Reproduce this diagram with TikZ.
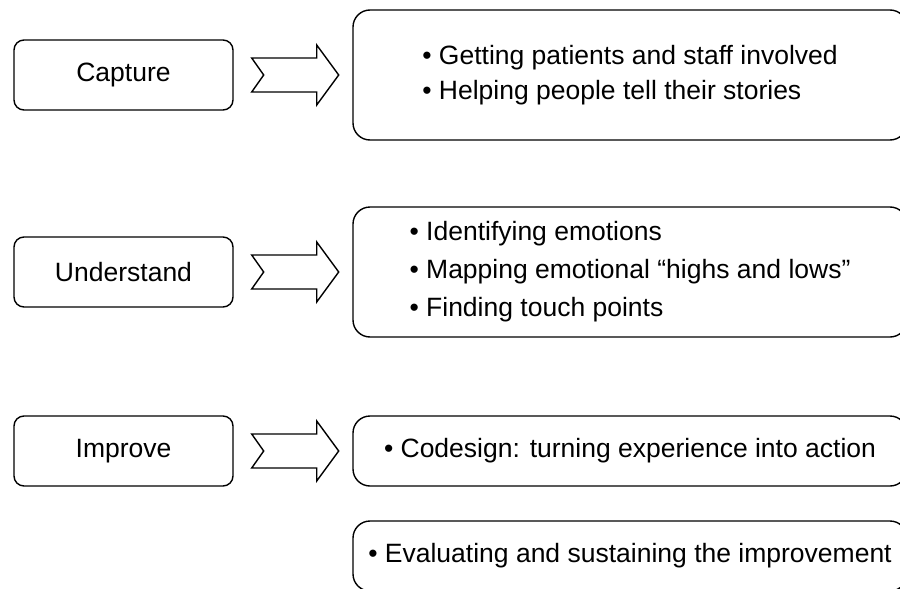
\documentclass[tikz,border=0pt]{standalone}
\usepackage{fontspec}
\setmainfont{Liberation Sans}
\usetikzlibrary{calc}
\begin{document}
\begin{tikzpicture}[x=1pt,y=-1pt,
  stage/.style={draw, line width=1.4pt, rounded corners=10pt, minimum width=219pt, minimum height=70pt, inner sep=0pt, font=\fontsize{26.5}{32}\selectfont},
  detail/.style={draw, line width=1.4pt, rounded corners=17pt, minimum width=554pt, inner sep=0pt, align=left, font=\fontsize{26.5}{36}\selectfont},
  blockarrow/.style={draw, line width=1.4pt, fill=white, line join=miter},
  notcharrow/.pic={\draw[blockarrow] (0,-17) -- (65,-17) -- (65,-30) -- (87,0) -- (65,30) -- (65,17) -- (0,17) -- (12,0) -- cycle;}]
\useasboundingbox (0,0) rectangle (900,589);
\clip (0,0) rectangle (900,589);
\node[stage] (capture) at (123.5,75) {Capture};
\node[stage] (understand) at (123.5,272) {Understand};
\node[stage] (improve) at (123.5,451) {Improve};
\node[detail, minimum height=130pt, font=\fontsize{26.5}{35}\selectfont] (d1) at (630,75) {\textbullet\ Getting patients and staff involved\\\textbullet\ Helping people tell their stories};
\node[detail, minimum height=130pt, font=\fontsize{26.5}{38}\selectfont] (d2) at (630,272) {\textbullet\ Identifying emotions\\\textbullet\ Mapping emotional “highs and lows”\\\textbullet\ Finding touch points};
\node[detail, minimum height=70pt] (d3) at (630,451) {\textbullet\ Codesign: turning experience into action};
\node[detail, minimum height=70pt] (d4) at (630,556) {\textbullet\ Evaluating and sustaining the improvement};
\pic at ($(capture.east)+(18,0)$) {notcharrow};
\pic at ($(understand.east)+(18,0)$) {notcharrow};
\pic at ($(improve.east)+(18,0)$) {notcharrow};
\end{tikzpicture}
\end{document}
